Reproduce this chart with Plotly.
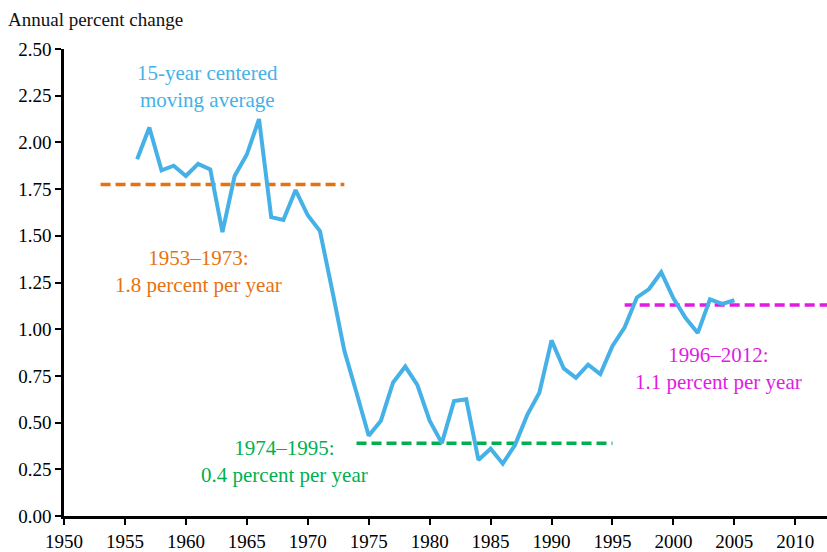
import plotly.graph_objects as go

years = list(range(1956, 2006))
moving_avg = [1.91, 2.08, 1.85, 1.875, 1.82, 1.885, 1.855, 1.52, 1.82, 1.935,
              2.125, 1.60, 1.585, 1.745, 1.61, 1.525, 1.21, 0.885, 0.66, 0.43,
              0.51, 0.715, 0.80, 0.70, 0.51, 0.39, 0.615, 0.625, 0.30, 0.36,
              0.28, 0.38, 0.54, 0.66, 0.94, 0.79, 0.74, 0.81, 0.76, 0.91,
              1.01, 1.17, 1.215, 1.305, 1.165, 1.06, 0.98, 1.16, 1.135, 1.155]

periods = ["1953–1973", "1974–1995", "1996–2012"]
period_start = [1953, 1974, 1996]
period_end = [1973, 1995, 2012.6]
period_avg = [1.775, 0.39, 1.13]
period_label = ["1.8 percent per year", "0.4 percent per year", "1.1 percent per year"]
period_color = ["#E8710E", "#00B04F", "#E21BE2"]
label_pos = [(1961.0, 1.31), (1968.1, 0.29), (2003.7, 0.79)]

x_ticks = list(range(1950, 2011, 5))
y_ticks = [0, 0.25, 0.5, 0.75, 1.0, 1.25, 1.5, 1.75, 2.0, 2.25, 2.5]

blue = "#46B1E6"
font_family = "Liberation Serif, Times New Roman, DejaVu Serif, serif"

fig = go.Figure()
for s, e, v, c in zip(period_start, period_end, period_avg, period_color):
    fig.add_trace(go.Scatter(x=[s, e], y=[v, v], mode="lines",
                             line=dict(color=c, width=3.5, dash="10px,5px"),
                             showlegend=False, hoverinfo="skip"))
fig.add_trace(go.Scatter(x=years, y=moving_avg, mode="lines",
                         line=dict(color=blue, width=4), showlegend=False))

for p, lab, c, (lx, ly) in zip(periods, period_label, period_color, label_pos):
    fig.add_annotation(x=lx, y=ly, text=p + ":<br>" + lab, showarrow=False,
                       font=dict(color=c, size=21, family=font_family),
                       xanchor="center", yanchor="middle")

fig.add_annotation(x=1961.8, y=2.30, text="15-year centered<br>moving average",
                   showarrow=False, font=dict(color=blue, size=21, family=font_family),
                   xanchor="center", yanchor="middle")

fig.add_annotation(x=0, y=1, xref="paper", yref="paper", xshift=-58, yshift=42,
                   text="Annual percent change", showarrow=False,
                   font=dict(color="#111111", size=19, family=font_family),
                   xanchor="left", yanchor="top")

fig.update_xaxes(range=[1950, 2012.6], tickvals=x_ticks, ticktext=[str(t) for t in x_ticks],
                 showgrid=False, zeroline=False, showline=True, linecolor="black", linewidth=2.5,
                 ticks="outside", ticklen=6, tickwidth=1.5, tickcolor="black",
                 tickfont=dict(size=19, family=font_family, color="black"))
fig.update_yaxes(range=[0, 2.5], tickvals=y_ticks, ticktext=[f"{t:.2f}" for t in y_ticks],
                 showgrid=False, zeroline=False, showline=True, linecolor="black", linewidth=2.5,
                 ticks="outside", ticklen=6, tickwidth=1.5, tickcolor="black",
                 tickfont=dict(size=19, family=font_family, color="black"))

fig.update_layout(width=827, height=552, margin=dict(l=64, r=0, t=49, b=31),
                  plot_bgcolor="white", paper_bgcolor="white",
                  font=dict(family=font_family))

fig.write_html("out.html", config={"displayModeBar": False},
               post_script="document.body.style.margin='0';document.body.style.overflow='hidden';")
